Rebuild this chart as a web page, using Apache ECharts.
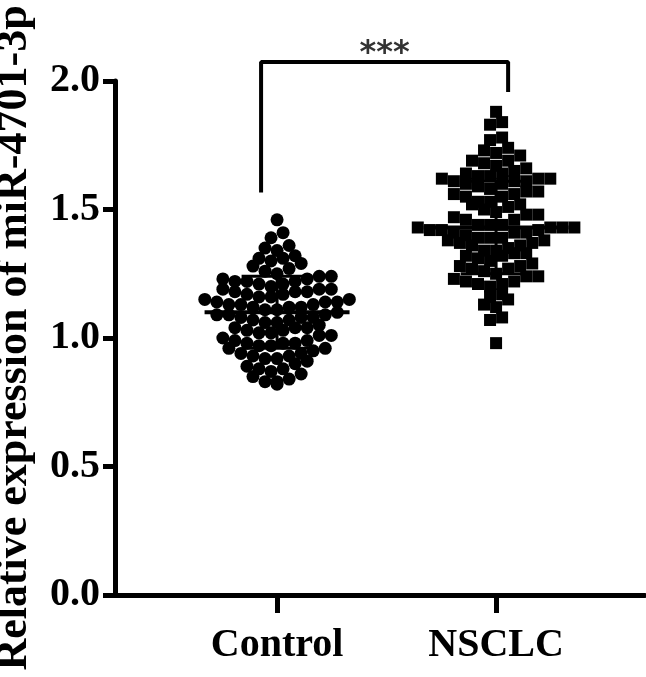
<!DOCTYPE html>
<html>
<head>
<meta charset="utf-8">
<script src="https://cdn.jsdelivr.net/npm/echarts@6/dist/echarts.min.js"></script>
<style>
  html, body { margin: 0; background: #fff; }
  #chart { width: 646px; height: 677px; }
</style>
</head>
<body>
<div id="chart"></div>
<script>
// groups on the x axis (x = 1, 2)
var groups = ['Control', 'NSCLC']

// relative expression values
var controlValues = [
  1.46, 1.41, 1.39,
  1.35, 1.34, 1.36,
  1.31, 1.31, 1.32, 1.30,
  1.28, 1.29, 1.26, 1.27, 1.25,
  1.24, 1.23, 1.22, 1.22, 1.21, 1.23, 1.24, 1.20, 1.21, 1.22,
  1.19, 1.18, 1.17, 1.16, 1.18, 1.19, 1.15, 1.17, 1.16, 1.18, 1.19, 1.15,
  1.14, 1.13, 1.12, 1.11, 1.14, 1.13, 1.12, 1.10, 1.11, 1.14, 1.13, 1.12,
  1.09, 1.08, 1.07, 1.06, 1.09, 1.08, 1.05, 1.07, 1.06, 1.09, 1.08,
  1.04, 1.03, 1.02, 1.01, 1.04, 1.03, 1.00, 1.02, 1.01, 1.04,
  0.99, 0.98, 0.97, 0.96, 0.99, 0.98, 0.95, 0.97, 0.96, 0.98,
  0.94, 0.93, 0.92, 0.91, 0.94, 0.93, 0.90, 0.92,
  0.89, 0.88, 0.87, 0.86, 0.88, 0.85,
  0.84, 0.83, 0.83, 0.82
]
var nsclcValues = [
  1.88,
  1.84, 1.83,
  1.78, 1.77,
  1.74, 1.73, 1.72, 1.71,
  1.69, 1.69, 1.68, 1.67, 1.66, 1.65,
  1.64, 1.64, 1.63, 1.63, 1.62, 1.62, 1.62, 1.61, 1.61, 1.60, 1.60, 1.61,
  1.59, 1.58, 1.57, 1.57, 1.56, 1.55, 1.55, 1.56,
  1.53, 1.52, 1.52, 1.51, 1.50, 1.53,
  1.49, 1.48, 1.47, 1.46, 1.46, 1.48,
  1.44, 1.44, 1.43, 1.43, 1.43, 1.42, 1.42, 1.41, 1.41, 1.40, 1.44, 1.43, 1.42, 1.41,
  1.39, 1.39, 1.38, 1.38, 1.37, 1.36, 1.36, 1.35, 1.37, 1.39,
  1.34, 1.34, 1.33, 1.32, 1.32, 1.31, 1.30, 1.33,
  1.29, 1.28, 1.27, 1.27, 1.26, 1.25, 1.28,
  1.24, 1.23, 1.22, 1.21, 1.21, 1.20, 1.22, 1.24,
  1.17, 1.16, 1.15,
  1.13, 1.12,
  1.08, 1.07,
  0.98
]

// mean and SD per group
var groupMeans = [1.10, 1.43]
var groupSD = [0.14, 0.18]

// significance bracket: [left x, left bottom], top, [right x, right bottom]
var sigLeft = [0.927, 1.566]
var sigTop = 2.074
var sigRight = [2.055, 1.957]
var sigLabel = '***'

var FONT = 'Liberation Serif'
var X_MIN = 0.26, X_MAX = 2.68

// lay points out in rows (Prism-like scatter), x offset from the group centre
function swarm(values, center, rowH, step) {
  var sorted = values.slice().sort(function (a, b) { return a - b })
  var rows = {}
  sorted.forEach(function (v) {
    var k = Math.round(v / rowH)
    if (!rows[k]) rows[k] = []
    rows[k].push(v)
  })
  var out = []
  Object.keys(rows).forEach(function (k) {
    var row = rows[k]
    var n = row.length
    var slots = []
    var mid = Math.floor((n - 1) / 2)
    for (var j = 0; j < n; j++) {
      var s = j % 2 === 0 ? mid + j / 2 : mid - (j + 1) / 2
      if (s < 0 || s >= n) s = j
      slots.push(s)
    }
    var used = {}
    row.forEach(function (v, i) {
      var s = slots[i]
      while (used[s]) s = (s + 1) % n
      used[s] = true
      out.push([center + (s - (n - 1) / 2) * step, v])
    })
  })
  return out
}

var chart = echarts.init(document.getElementById('chart'))

var option = {
  animation: false,
  grid: { left: 115, right: 1, top: 81, bottom: 82, outerBoundsMode: 'none', containLabel: false },
  xAxis: {
    type: 'value',
    min: X_MIN,
    max: X_MAX,
    splitLine: { show: false },
    axisLine: { show: true, onZero: false, lineStyle: { color: '#000', width: 5 } },
    axisTick: { show: true, customValues: [1, 2], length: 18, lineStyle: { color: '#000', width: 5 } },
    axisLabel: {
      customValues: [1, 2],
      formatter: function (v) { return groups[Math.round(v) - 1] },
      color: '#000',
      fontFamily: FONT,
      fontWeight: 'bold',
      fontSize: 40,
      margin: 31
    }
  },
  yAxis: {
    type: 'value',
    min: 0,
    max: 2,
    interval: 0.5,
    name: 'Relative expression of miR-4701-3p',
    nameLocation: 'middle',
    nameRotate: 90,
    nameGap: 78,
    nameTextStyle: { color: '#000', fontFamily: FONT, fontWeight: 'bold', fontSize: 44 },
    splitLine: { show: false },
    axisLine: { show: true, lineStyle: { color: '#000', width: 5 } },
    axisTick: { show: true, length: 12, lineStyle: { color: '#000', width: 5 } },
    axisLabel: {
      formatter: function (v) { return v.toFixed(1) },
      color: '#000',
      fontFamily: FONT,
      fontWeight: 'bold',
      fontSize: 40,
      margin: 15
    }
  },
  series: [
    {
      name: groups[0],
      type: 'scatter',
      symbol: 'circle',
      symbolSize: 13,
      itemStyle: { color: '#000', opacity: 1 },
      data: swarm(controlValues, 1, 0.047, 0.055)
    },
    {
      name: groups[1],
      type: 'scatter',
      symbol: 'rect',
      symbolSize: 12,
      itemStyle: { color: '#000', opacity: 1 },
      data: swarm(nsclcValues, 2, 0.047, 0.055)
    },
    {
      // mean line + SD whiskers
      type: 'custom',
      z: 5,
      data: groupMeans.map(function (m, i) { return [i + 1, m, groupSD[i]] }),
      renderItem: function (params, api) {
        var x = api.value(0), m = api.value(1), sd = api.value(2)
        var hw = 0.331, cw = 0.162
        var a = api.coord([x - hw, m]), b = api.coord([x + hw, m])
        var lo = api.coord([x, m - sd]), hi = api.coord([x, m + sd])
        var lo1 = api.coord([x - cw, m - sd]), lo2 = api.coord([x + cw, m - sd])
        var hi1 = api.coord([x - cw, m + sd]), hi2 = api.coord([x + cw, m + sd])
        var st = { stroke: '#000', lineWidth: 4 }
        var st2 = { stroke: '#000', lineWidth: 3 }
        return {
          type: 'group',
          children: [
            { type: 'line', shape: { x1: a[0], y1: a[1], x2: b[0], y2: b[1] }, style: st },
            { type: 'line', shape: { x1: lo[0], y1: lo[1], x2: hi[0], y2: hi[1] }, style: st2 },
            { type: 'line', shape: { x1: lo1[0], y1: lo1[1], x2: lo2[0], y2: lo2[1] }, style: st2 },
            { type: 'line', shape: { x1: hi1[0], y1: hi1[1], x2: hi2[0], y2: hi2[1] }, style: st2 }
          ]
        }
      }
    },
    {
      // significance bracket
      type: 'line',
      clip: false,
      symbol: 'none',
      lineStyle: { color: '#000', width: 4 },
      data: [sigLeft, [sigLeft[0], sigTop], [sigRight[0], sigTop], sigRight]
    },
    {
      type: 'scatter',
      clip: false,
      symbolSize: 0,
      label: {
        show: true,
        position: 'top',
        distance: -8,
        formatter: sigLabel,
        color: '#000',
        fontFamily: 'DejaVu Sans',
        fontWeight: 'bold',
        fontSize: 32
      },
      data: [[(sigLeft[0] + sigRight[0]) / 2, sigTop]]
    }
  ]
}

chart.setOption(option)
</script>
</body>
</html>
